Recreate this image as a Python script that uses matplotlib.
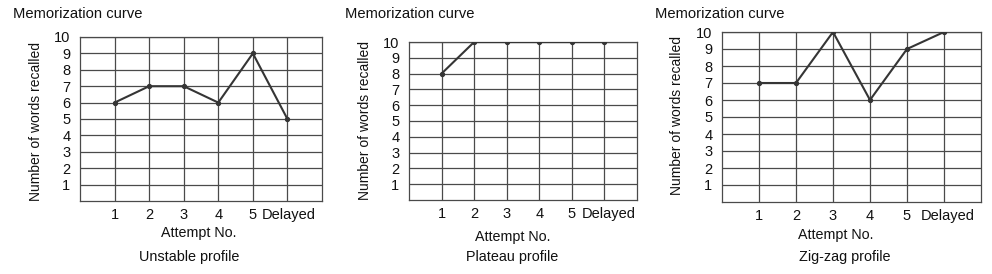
import matplotlib.pyplot as plt
from matplotlib.transforms import ScaledTranslation

plt.rcParams['font.family'] = ['Liberation Sans', 'DejaVu Sans']

attempts = ['1', '2', '3', '4', '5', 'Delayed']
unstable = [6, 7, 7, 6, 9, 5]
plateau = [8, 10, 10, 10, 10, 10]
zigzag = [7, 7, 10, 6, 9, 10]
profiles = ['Unstable profile', 'Plateau profile', 'Zig-zag profile']

# panel boxes in pixels: left, right, top, bottom (fig is 992x274)
boxes = [(80, 322, 37, 201), (409, 637, 42, 200), (722, 981, 32, 202)]
title_x = [13, 345, 655]
ylab_x = [36, 365, 677]
ylab_y = [121, 120, 116]
xlab = [(199, 233), (513, 237), (836, 235)]
prof = [(189, 257), (512, 257), (845, 257)]
delayed_shift = [1, 4, 4]  # px nudge of the "Delayed" label

W, H = 992, 274
fig = plt.figure(figsize=(W / 100, H / 100), dpi=100)

grid_col = '#4a4a4a'
line_col = '#353535'
txt_col = '#111111'

for i, series in enumerate([unstable, plateau, zigzag]):
    l, r, t, b = boxes[i]
    ax = fig.add_axes([l / W, 1 - b / H, (r - l) / W, (b - t) / H])
    ax.set_xlim(0, 7)
    ax.set_ylim(0, 10)
    xs = list(range(1, len(attempts) + 1))
    ax.plot(xs, series, color=line_col, lw=1.5, marker='o', ms=2.8, zorder=3)
    ax.set_xticks(xs, attempts)
    ax.set_yticks(range(1, 11), [str(v) for v in range(1, 11)])
    ax.grid(True, color=grid_col, lw=0.9)
    ax.tick_params(length=0, labelsize=10.5, colors=txt_col)
    ax.tick_params(axis='y', pad=7)
    ax.tick_params(axis='x', pad=5)
    lab = ax.get_xticklabels()[-1]
    lab.set_transform(lab.get_transform() +
                      ScaledTranslation(delayed_shift[i] / 100, 0, fig.dpi_scale_trans))
    for s in ax.spines.values():
        s.set_color(grid_col)
        s.set_linewidth(0.9)

    fig.text(title_x[i] / W, 1 - 14 / H, 'Memorization curve', ha='left',
             va='center', fontsize=10.6, color=txt_col)
    fig.text(ylab_x[i] / W, 1 - ylab_y[i] / H, 'Number of words recalled',
             rotation=90, ha='center', va='center', fontsize=10, color=txt_col)
    fig.text(xlab[i][0] / W, 1 - xlab[i][1] / H, 'Attempt No.', ha='center',
             va='center', fontsize=10.3, color=txt_col)
    fig.text(prof[i][0] / W, 1 - prof[i][1] / H, profiles[i], ha='center',
             va='center', fontsize=10.4, color=txt_col)

fig.savefig('out.png', dpi=100)
